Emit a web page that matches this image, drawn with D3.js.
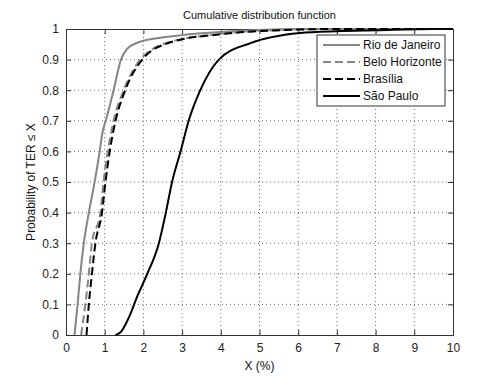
<!DOCTYPE html>
<html>
<head>
<script src="https://d3js.org/d3.v7.min.js"></script>
<style>
  body { margin: 0; background: #fff; font-family: "Liberation Sans", Arial, sans-serif; }
  .tick text { font-size: 12px; fill: #222; }
  .grid line { stroke: #444; stroke-dasharray: 1 3; stroke-width: 0.8; }
</style>
</head>
<body>
<script>
// values: [X (%), probability]
var rio = [[0.22,0],[0.30,0.1],[0.37,0.2],[0.46,0.3],[0.59,0.4],[0.74,0.5],[0.87,0.6],[0.94,0.66],[1.05,0.71],[1.23,0.8],[1.42,0.9],[1.58,0.935],[1.84,0.955],[2.35,0.97],[3,0.98],[4,0.99],[6,1],[10,1]];
var belo = [[0.39,0],[0.50,0.1],[0.59,0.2],[0.67,0.3],[0.89,0.4],[0.97,0.5],[1.08,0.6],[1.23,0.7],[1.49,0.8],[1.92,0.9],[2.18,0.93],[2.5,0.95],[3.1,0.97],[3.7,0.98],[4.5,0.99],[7,1],[10,1]];
var brasilia = [[0.53,0],[0.59,0.1],[0.67,0.2],[0.76,0.3],[0.93,0.4],[1.02,0.5],[1.13,0.6],[1.28,0.7],[1.53,0.8],[1.97,0.9],[2.22,0.93],[2.55,0.95],[3.15,0.97],[3.8,0.98],[4.6,0.99],[7,1],[10,1]];
var saoPaulo = [[1.28,0],[1.42,0.01],[1.56,0.04],[1.7,0.08],[1.82,0.12],[1.96,0.16],[2.1,0.2],[2.4,0.3],[2.58,0.4],[2.74,0.5],[2.96,0.6],[3.17,0.7],[3.47,0.8],[3.95,0.9],[4.77,0.954],[6.05,0.987],[7,0.993],[8,0.996],[9.5,1],[10,1]];
var seriesNames = ["Rio de Janeiro", "Belo Horizonte", "Brasília", "São Paulo"];
var xTicks = [0,1,2,3,4,5,6,7,8,9,10];
var yTicks = [0,0.1,0.2,0.3,0.4,0.5,0.6,0.7,0.8,0.9,1];

var W = 501, H = 376;
var margin = {top: 29, right: 48, bottom: 41, left: 66};
var width = W - margin.left - margin.right,
    height = H - margin.top - margin.bottom;

var svg = d3.select("body").append("svg")
    .attr("width", W).attr("height", H);
var g = svg.append("g")
    .attr("transform", "translate(" + margin.left + "," + margin.top + ")");

var x = d3.scaleLinear().domain([0, 10]).range([0, width]);
var y = d3.scaleLinear().domain([0, 1]).range([height, 0]);

// grid
g.append("g").attr("class", "grid")
  .selectAll("line").data(xTicks.slice(1, -1)).enter().append("line")
  .attr("x1", d => x(d)).attr("x2", d => x(d))
  .attr("y1", 0).attr("y2", height);
g.append("g").attr("class", "grid")
  .selectAll("line").data(yTicks.slice(1, -1)).enter().append("line")
  .attr("y1", d => y(d)).attr("y2", d => y(d))
  .attr("x1", 0).attr("x2", width);

// axes with inward ticks (box on all sides)
var fmtY = d => String(+d.toFixed(1));
g.append("g").attr("transform", "translate(0," + height + ")")
  .call(d3.axisBottom(x).tickValues(xTicks).tickSize(-5).tickPadding(8).tickFormat(d3.format("d")));
g.append("g")
  .call(d3.axisLeft(y).tickValues(yTicks).tickSize(-5).tickPadding(7).tickFormat(fmtY));
g.append("g")
  .call(d3.axisTop(x).tickValues(xTicks).tickSize(-5).tickFormat(""));
g.append("g").attr("transform", "translate(" + width + ",0)")
  .call(d3.axisRight(y).tickValues(yTicks).tickSize(-5).tickFormat(""));
g.selectAll(".domain, .tick line").attr("stroke", "#333");
g.selectAll("text").attr("font-family", "Liberation Sans, Arial, sans-serif");

// curves
var line = d3.line().x(d => x(d[0])).y(d => y(d[1])).curve(d3.curveMonotoneX);
var styles = [
  {data: rio, color: "#858585", dash: null},
  {data: belo, color: "#858585", dash: "8,4"},
  {data: brasilia, color: "#000", dash: "8,4"},
  {data: saoPaulo, color: "#000", dash: null}
];
styles.forEach(function(s) {
  g.append("path").datum(s.data)
    .attr("fill", "none")
    .attr("stroke", s.color)
    .attr("stroke-width", 2)
    .attr("stroke-dasharray", s.dash)
    .attr("d", line);
});

// legend
var lg = svg.append("g").attr("transform", "translate(317,35)");
lg.append("rect").attr("width", 128).attr("height", 71)
  .attr("fill", "#fff").attr("stroke", "#333");
styles.forEach(function(s, i) {
  var yy = 10 + i * 17;
  lg.append("line").attr("x1", 6).attr("x2", 43).attr("y1", yy).attr("y2", yy)
    .attr("stroke", s.color).attr("stroke-width", 2).attr("stroke-dasharray", s.dash);
  lg.append("text").attr("x", 46).attr("y", yy + 4)
    .attr("font-size", 12).attr("fill", "#111").text(seriesNames[i]);
});

// titles
svg.append("text").attr("x", margin.left + width / 2).attr("y", 19)
  .attr("text-anchor", "middle").attr("font-size", 11).attr("fill", "#111")
  .text("Cumulative distribution function");
svg.append("text").attr("x", margin.left + width / 2).attr("y", 370)
  .attr("text-anchor", "middle").attr("font-size", 12).attr("fill", "#111")
  .text("X (%)");
svg.append("text").attr("transform", "translate(35," + (margin.top + height / 2) + ") rotate(-90)")
  .attr("text-anchor", "middle").attr("font-size", 12).attr("fill", "#111")
  .text("Probability of TER \u2264 X");
</script>
</body>
</html>
